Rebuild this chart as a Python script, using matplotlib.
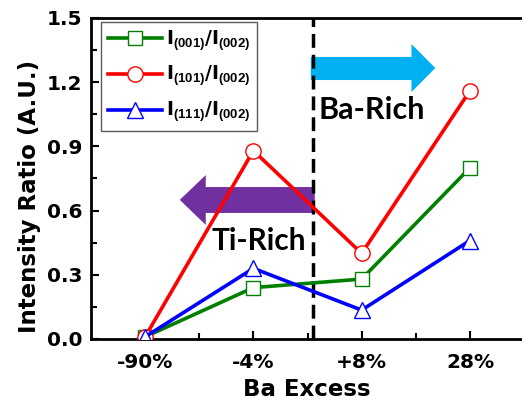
import matplotlib
matplotlib.use("Agg")
import matplotlib.pyplot as plt
from matplotlib.patches import Polygon

categories = ["-90%", "-4%", "+8%", "28%"]
r001 = [0.01, 0.24, 0.28, 0.80]
r101 = [0.01, 0.88, 0.40, 1.16]
r111 = [0.01, 0.33, 0.135, 0.46]
yticks = [0.0, 0.3, 0.6, 0.9, 1.2, 1.5]

plt.rcParams['font.family'] = ['DejaVu Sans']
plt.rcParams['font.weight'] = 'bold'
plt.rcParams['mathtext.fontset'] = 'custom'
plt.rcParams['mathtext.rm'] = 'Liberation Sans:bold'
plt.rcParams['mathtext.bf'] = 'Liberation Sans:bold'
plt.rcParams['mathtext.it'] = 'Liberation Sans:bold'

fig = plt.figure(figsize=(5.22, 4.05), dpi=100)
ax = fig.add_axes([0.1743, 0.163, 0.8297, 0.7926])

x = [1, 2, 3, 4]

# arrows
cyan = Polygon([(2.53, 1.210), (3.46, 1.210), (3.46, 1.154), (3.68, 1.266),
                (3.46, 1.378), (3.46, 1.318), (2.53, 1.318)],
               closed=True, facecolor='#00B0F0', edgecolor='none', zorder=1)
purple = Polygon([(2.567, 0.589), (1.56, 0.589), (1.56, 0.533), (1.32, 0.65),
                  (1.56, 0.766), (1.56, 0.710), (2.567, 0.710)],
                 closed=True, facecolor='#7030A0', edgecolor='none', zorder=1)
ax.add_patch(cyan)
ax.add_patch(purple)

ax.plot(x, r001, color='#008000', lw=2.6, marker='s', ms=10, mfc='white',
        mec='#008000', mew=1.0, label=r'I$_{(001)}$/I$_{(002)}$', zorder=3)
ax.plot(x, r101, color='#FF0000', lw=2.6, marker='o', ms=11, mfc='white',
        mec='#FF0000', mew=1.0, label=r'I$_{(101)}$/I$_{(002)}$', zorder=3)
ax.plot(x, r111, color='#0000FF', lw=2.6, marker='^', ms=12, mfc='white',
        mec='#0000FF', mew=1.0, label=r'I$_{(111)}$/I$_{(002)}$', zorder=3)

ax.axvline(2.55, color='black', lw=2.5, ls=(0, (4, 2)), zorder=2)

ax.text(2.05, 0.46, 'Ti-Rich', fontsize=21.5, fontweight='bold',
        family=['Lato', 'DejaVu Sans'], ha='center', va='center', zorder=4)
ax.text(3.09, 1.07, 'Ba-Rich', fontsize=22, fontweight='bold',
        family=['Lato', 'DejaVu Sans'], ha='center', va='center', zorder=4)

ax.set_xlim(0.5, 4.5)
ax.set_ylim(0, 1.5)
ax.set_xticks(x)
ax.set_xticklabels(categories)
ax.set_xticks([1.5, 2.5, 3.5], minor=True)
ax.set_yticks(yticks)
ax.set_yticklabels([f"{v:.1f}" for v in yticks])
ax.set_yticks([0.15, 0.45, 0.75, 1.05, 1.35], minor=True)
ax.tick_params(which='both', direction='in', width=1.5, labelsize=14.5)
ax.tick_params(which='major', length=6)
ax.tick_params(axis='x', which='major', pad=10)
ax.tick_params(axis='y', which='major', pad=6)
ax.tick_params(which='minor', length=4)
for lab in ax.get_xticklabels() + ax.get_yticklabels():
    lab.set_fontweight('bold')
for s in ax.spines.values():
    s.set_linewidth(2)

fig.text(307 / 522, 1 - 390 / 405, 'Ba Excess', fontsize=16.5, fontweight='bold',
         ha='center', va='center')
fig.text(30 / 522, 1 - 196 / 405, 'Intensity Ratio (A.U.)', fontsize=16.5,
         fontweight='bold', ha='center', va='center', rotation=90)

leg = ax.legend(loc='upper left', bbox_to_anchor=(0.023, 0.988), fontsize=13.5,
                frameon=True, fancybox=False, edgecolor='#333333',
                handlelength=2.9, borderpad=0.35, labelspacing=0.62,
                handletextpad=0.2, borderaxespad=0)
leg.get_frame().set_linewidth(1.0)
leg._legend_box.align = 'left'
leg._legend_box.sep = 0

fig.savefig('out.png', dpi=100)
